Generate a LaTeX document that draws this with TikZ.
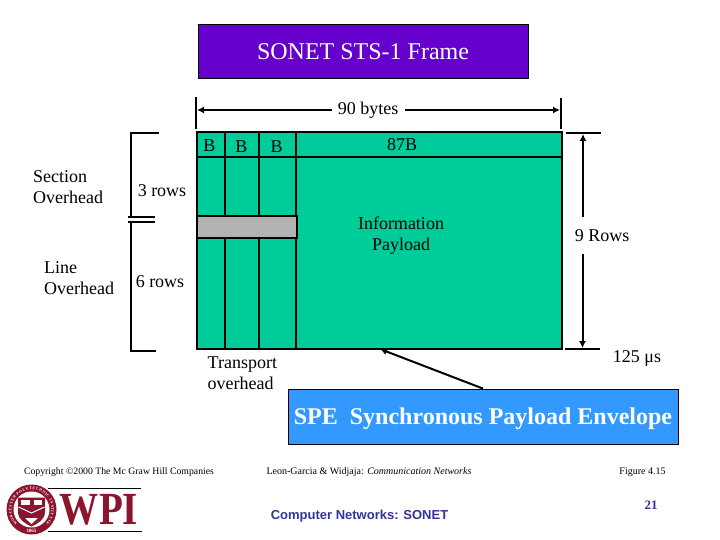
\documentclass[tikz,border=0pt]{standalone}
\usepackage{fontspec}
\setmainfont{Liberation Serif}
\newfontfamily\sansf{Liberation Sans}
\usetikzlibrary{arrows.meta,decorations.text}
\definecolor{grn}{RGB}{0,204,153}
\definecolor{purp}{RGB}{102,0,204}
\definecolor{blu}{RGB}{51,153,255}
\definecolor{gry}{RGB}{178,178,178}
\definecolor{crim}{RGB}{140,20,45}
\definecolor{navy}{RGB}{51,51,153}
\tikzset{
 lbl/.style={inner sep=0pt,align=center,font=\fontsize{18}{21}\selectfont,text=black},
 small/.style={inner sep=0pt,font=\fontsize{10}{11}\selectfont},
 foot/.style={inner sep=0pt,text=navy},
 ln/.style={line width=2pt,black},
 arr/.style={ln,-{Latex[length=7pt,width=7pt]}},
 grid/.style={line width=2pt,black},
 banner/.style={draw=black,line width=0.8pt,inner sep=0pt,text=white},
}
\begin{document}
\begin{tikzpicture}[x=1pt,y=-1pt]
\useasboundingbox (0,0) rectangle (720,540);
\fill[white] (0,0) rectangle (720,540);
\node[banner,fill=purp,minimum width=330pt,minimum height=54pt,font=\fontsize{24}{26}\selectfont] (title) at (363,51.5) {SONET STS-1 Frame};
% frame
\node[draw=black,line width=2pt,fill=grn,minimum width=365pt,minimum height=217pt,inner sep=0pt] (frame) at (379.5,240.5) {};
\draw[grid] (frame.west |- 0,157) -- (frame.east |- 0,157);
\foreach \x in {225,259,296} \draw[grid] (\x,132) -- (\x,349);
\node[draw=black,line width=2pt,fill=gry,minimum width=100pt,minimum height=22pt,inner sep=0pt] (gray) at (247,227) {};
\node[lbl] (b1) at (209.5,146) {B};
\node[lbl] (b2) at (241.5,147) {B};
\node[lbl] (b3) at (276.5,147) {B};
\node[lbl] (b87) at (402,145) {87B};
\node[lbl] (info) at (401,236) {Information\\Payload};
% top dimension
\coordinate (tl) at (196,97); \coordinate (tlb) at (196,129);
\coordinate (tr) at (561,98); \coordinate (trb) at (561,129);
\draw[ln] (tl) -- (tlb); \draw[ln] (tr) -- (trb);
\node[lbl] (bytes) at (368,110) {90 bytes};
\coordinate (al) at (197,110); \coordinate (ar) at (560,110);
\draw[arr] (332,110) -- (al);
\draw[arr] (405,110) -- (ar);
% right dimension
\coordinate (rt) at (566,133); \coordinate (rt2) at (601,133);
\coordinate (rb) at (565,349); \coordinate (rb2) at (600,349);
\draw[ln] (rt) -- (rt2); \draw[ln] (rb) -- (rb2);
\node[lbl] (nine) at (602,236) {9 Rows};
\draw[arr] (583,217) -- (583,134);
\draw[arr] (582.5,254) -- (582.5,348);
% left bracket
\draw[ln] (159,133.5) -- (131,133.5) -- (131,217.5);
\draw[ln] (128,217.5) -- (155,217.5);
\draw[ln] (128,222) -- (155,222);
\draw[ln] (131,222) -- (131,350.5) -- (156,350.5);
\node[lbl] (r3) at (162,190.5) {3 rows};
\node[lbl] (r6) at (160,282) {6 rows};
\node[lbl,align=left,anchor=west] (sec) at (33,187.5) {Section\\Overhead};
\node[lbl,align=left,anchor=west] (line) at (44,278.5) {Line\\Overhead};
\node[lbl,align=left,anchor=west] (trans) at (207.5,373.5) {Transport\\overhead};
\node[lbl] (mu) at (637,358) {125 μs};
% SPE
\node[banner,fill=blu,minimum width=390pt,minimum height=55pt] (spe) at (483,416.5) {};
\node[inner sep=0pt,text=white,font=\fontsize{24}{24}\selectfont\bfseries] (spetext) at (483,419) {SPE\ \ Synchronous Payload Envelope};
\coordinate (spetip) at (380,349);
\draw[line width=2pt,-{Latex[length=7pt,width=7pt]}] (spe.north) -- (spetip);
% footer
\node[small,font=\fontsize{9.75}{11}\selectfont] (copy) at (119,472) {Copyright ©2000 The Mc Graw Hill Companies};
\node[small] (leon) at (369,472) {Leon-Garcia \& Widjaja: \textit{Communication Networks}};
\node[small] (fig) at (642.5,472) {Figure 4.15};
\node[foot,font=\sansf\bfseries\fontsize{13}{14}\selectfont] (cn) at (359.5,516) {Computer Networks: SONET};
\node[foot,font=\bfseries\fontsize{13}{14}\selectfont] (pg) at (651,505) {21};
% logo
\fill[crim] (31.5,509.5) circle (25);
\fill[white] (31.5,509.5) circle (18);
\path[postaction={decorate,decoration={text along path,text align={fit to path},text={|\fontsize{3.8}{4}\selectfont\bfseries\color{white}|WORCESTER POLYTECHNIC INSTITUTE}}}] (31.5,509.5) ++(135:20) arc (135:405:20);
\node[inner sep=0pt,text=white,font=\bfseries\fontsize{5}{5}\selectfont] (yr) at (31.5,530.5) {1865};
\fill[crim] (18,497.5) -- (45,497.5) -- (45,512) .. controls (45,520) and (37,524) .. (31.5,526.5) .. controls (26,524) and (18,520) .. (18,512) -- cycle;
\fill[white] (21,500) rectangle (29.5,505);
\fill[white] (33.5,500) rectangle (42,505);
\draw[white,line width=1pt] (18.5,507) -- (31.5,513) -- (44.5,507);
\fill[white] (25,518) -- (38,518) -- (31.5,524) -- cycle;
\draw[black,line width=1.2pt] (48,488.5) -- (141,488.5);
\draw[black,line width=1.5pt] (48,531.5) -- (142,531.5);
\node[inner sep=0pt,text=crim,font=\bfseries\fontsize{46}{46}\selectfont,xscale=.85] (wpi) at (99,510) {WPI};
\end{tikzpicture}
\end{document}
